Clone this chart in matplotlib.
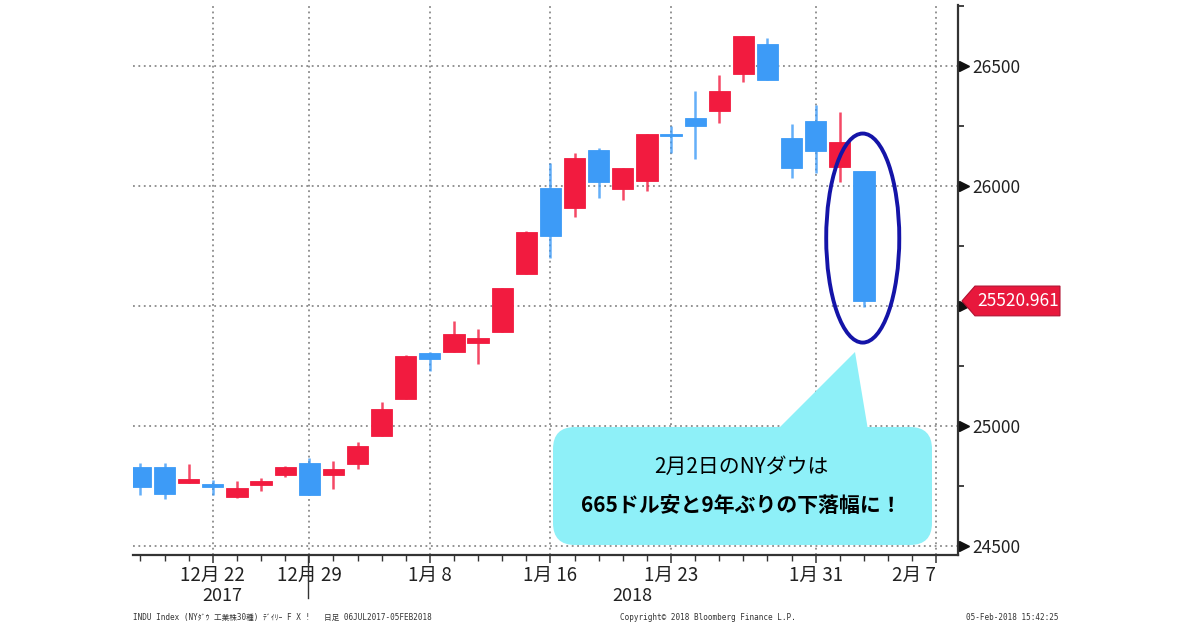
import matplotlib
matplotlib.use('Agg')
import matplotlib.pyplot as plt
import matplotlib.transforms as mtrans
from matplotlib.patches import Ellipse, FancyBboxPatch, Polygon

plt.rcParams['font.family'] = ['Noto Sans CJK JP', 'DejaVu Sans']

# ---------------- data ----------------
dates = ['12/19', '12/20', '12/21', '12/22', '12/26', '12/27', '12/28', '12/29',
         '1/2', '1/3', '1/4', '1/5', '1/8', '1/9', '1/10', '1/11', '1/12',
         '1/16', '1/17', '1/18', '1/19', '1/22', '1/23', '1/24', '1/25', '1/26',
         '1/29', '1/30', '1/31', '2/1', '2/2']
opens = [24831, 24831, 24764, 24757, 24705, 24753, 24796, 24845,
         24796, 24840, 24958, 25111, 25303, 25307, 25345, 25393, 25632,
         25990, 25907, 26150, 25988, 26022, 26218, 26285, 26314, 26467,
         26592, 26199, 26272, 26080, 26062]
highs = [24845, 24845, 24842, 24775, 24771, 24782, 24835, 24865,
         24856, 24935, 25101, 25295, 25307, 25437, 25403, 25574, 25812,
         26094, 26136, 26157, 26076, 26217, 26250, 26396, 26462, 26625,
         26615, 26258, 26337, 26310, 26064]
lows = [24712, 24695, 24761, 24712, 24700, 24729, 24789, 24712,
        24736, 24821, 24958, 25111, 25231, 25307, 25257, 25393, 25632,
        25699, 25870, 25951, 25942, 25981, 26139, 26112, 26264, 26435,
        26442, 26032, 26055, 26018, 25495]
closes = [24745, 24717, 24778, 24745, 24740, 24770, 24831, 24712,
          24820, 24917, 25070, 25292, 25278, 25382, 25365, 25574, 25807,
          25792, 26118, 26018, 26076, 26217, 26208, 26251, 26397, 26625,
          26442, 26074, 26147, 26185, 25521]

xtick_pos = [3, 7, 12, 17, 22, 28, 33]
xtick_labels = ['12月 22', '12月 29', '1月 8', '1月 16', '1月 23', '1月 31', '2月 7']
ytick_vals = [24500, 25000, 25500, 26000, 26500]
ytick_labels = ['24500', '25000', '', '26000', '26500']
yminor_vals = [24750, 25250, 25750, 26250, 26750]
last_price = 25520.961
year_labels = ['2017', '2018']
year_pos = [3.4, 20.4]
callout_lines = ['2月2日のNYダウは', '665ドル安と9年ぶりの下落幅に！']
footer_left = 'INDU Index (NYﾀﾞｳ 工業株30種) ﾃﾞｲﾘｰ F X !   日足 06JUL2017-05FEB2018'
footer_mid = 'Copyright© 2018 Bloomberg Finance L.P.'
footer_right = '05-Feb-2018 15:42:25'

UP = '#F21B3F'
DOWN = '#3D9BF7'

fig = plt.figure(figsize=(12, 6.3), dpi=100)
ax = fig.add_axes([133 / 1200, 75 / 630, 825 / 1200, 550 / 630])

xs = list(range(len(dates)))
for i in xs:
    o, h, l, c = opens[i], highs[i], lows[i], closes[i]
    col = UP if c >= o else DOWN
    ax.vlines(i, l, h, color=col, lw=1.8, alpha=0.8, zorder=2)
    body = max(abs(c - o), 8)
    ax.bar(i, body, bottom=min(o, c), width=0.88, color=col, zorder=3,
           edgecolor=col, linewidth=0.6)

ax.set_xlim(-0.31, 33.9)
ax.set_ylim(24462.5, 26754)

# grid
ax.set_yticks(ytick_vals)
ax.set_yticklabels(ytick_labels)
ax.set_yticks(yminor_vals, minor=True)
ax.set_xticks(xtick_pos)
ax.set_xticklabels(xtick_labels)
ax.set_xticks(range(0, 34), minor=True)
ax.grid(True, which='major', color='#8a8a8a', linestyle=(0, (1, 2.0)), lw=1.3)

for s in ['left', 'top']:
    ax.spines[s].set_visible(False)
for s in ['right', 'bottom']:
    ax.spines[s].set_color('#333333')
    ax.spines[s].set_linewidth(1.6)

ax.yaxis.tick_right()
ax.tick_params(axis='y', which='major', length=0, pad=10, labelsize=12.5,
               labelcolor='#222222')
ax.tick_params(axis='y', which='minor', length=4, width=1.2, color='#222222',
               direction='out')
ax.tick_params(axis='x', which='major', length=6, width=1.1, color='#333333',
               direction='out', pad=1, labelsize=13.5, labelcolor='#222222')
ax.tick_params(axis='x', which='minor', length=4, width=1.0, color='#333333',
               direction='out')
lbls = ax.get_xticklabels()
lbls[-1].set_ha('right')

# right-axis triangle markers
bt_y = mtrans.blended_transform_factory(ax.transAxes, ax.transData)
ax.plot([1.0075] * len(ytick_vals), ytick_vals, ls='none', marker='>',
        markersize=7, color='#111111', transform=bt_y, clip_on=False, zorder=6)

# price tag
th = 62
tag = Polygon([(1.0048, last_price), (1.0206, last_price + th),
               (1.1236, last_price + th), (1.1236, last_price - th),
               (1.0206, last_price - th)], closed=True, facecolor='#E8183C',
              edgecolor='#B01030', lw=0.8, transform=bt_y, clip_on=False, zorder=7)
ax.add_patch(tag)
ax.text(1.023, last_price, f'{last_price:.3f}', color='white', fontsize=12.5,
        va='center', ha='left', transform=bt_y, zorder=8, clip_on=False)

# year separator & year labels
bt_x = mtrans.blended_transform_factory(ax.transData, ax.transAxes)
ax.plot([6.95, 6.95], [0, -0.078], color='#333333', lw=1.0, transform=bt_x,
        clip_on=False)
for lab, xp in zip(year_labels, year_pos):
    ax.text(xp, -0.0745, lab, transform=bt_x, ha='center', va='center',
            fontsize=13, color='#222222')

# ellipse highlight
ax.add_patch(Ellipse((29.95, 25783), width=3.03, height=871, fill=False,
                     edgecolor='#1414A8', lw=2.8, zorder=5))

# callout bubble (in inches)
ft = fig.dpi_scale_trans
bubble_col = '#8EF0F8'
box = FancyBboxPatch((5.53, 0.85), 3.79, 1.18,
                     boxstyle='round,pad=0,rounding_size=0.22',
                     facecolor=bubble_col, edgecolor='none', transform=ft,
                     zorder=9)
fig.patches.append(box)
ptr = Polygon([(7.77, 2.0), (8.68, 2.0), (8.55, 2.78)], closed=True,
              facecolor=bubble_col, edgecolor='none', transform=ft, zorder=9)
fig.patches.append(ptr)
fig.text(741 / 1200, 1 - 467 / 630, callout_lines[0], ha='center', va='center',
         fontsize=15, color='black', zorder=10)
fig.text(741 / 1200, 1 - 505 / 630, callout_lines[1], ha='center', va='center',
         fontsize=15, fontweight='bold', color='black', zorder=10)

# footer
ffam = ['DejaVu Sans Mono', 'Noto Sans CJK JP']
fig.text(133 / 1200, 1 - 617 / 630, footer_left, fontsize=5.5, family=ffam,
         va='center', ha='left', color='#333333')
fig.text(620 / 1200, 1 - 617 / 630, footer_mid, fontsize=5.5, family=ffam,
         va='center', ha='left', color='#333333')
fig.text(1058 / 1200, 1 - 617 / 630, footer_right, fontsize=5.5, family=ffam,
         va='center', ha='right', color='#333333')

fig.savefig('out.png', dpi=100)
